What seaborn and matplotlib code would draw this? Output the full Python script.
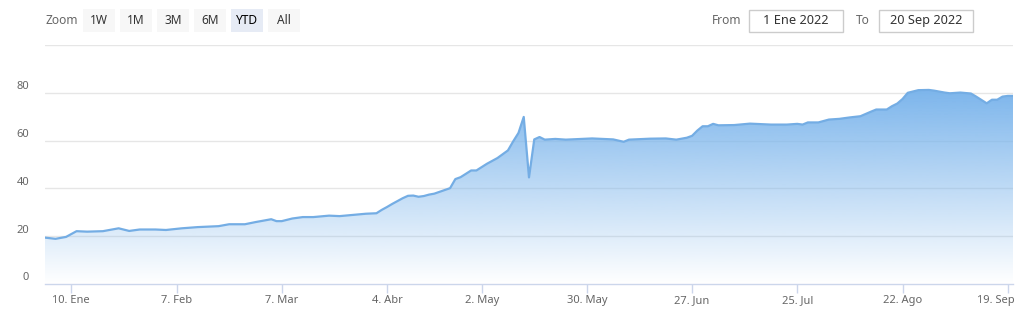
import numpy as np
import pandas as pd
import matplotlib
matplotlib.use("Agg")
import matplotlib.pyplot as plt
import seaborn as sns
from matplotlib.patches import Rectangle
from matplotlib.transforms import blended_transform_factory, ScaledTranslation

# ---------------- data ----------------
dates = [
    "2022-01-03", "2022-01-05", "2022-01-07", "2022-01-11", "2022-01-13", "2022-01-18",
    "2022-01-21", "2022-01-25", "2022-01-27", "2022-02-01", "2022-02-03", "2022-02-08",
    "2022-02-11", "2022-02-17", "2022-02-21", "2022-02-24", "2022-02-28", "2022-03-01",
    "2022-03-03", "2022-03-04", "2022-03-07", "2022-03-09", "2022-03-11", "2022-03-15",
    "2022-03-18", "2022-03-22", "2022-03-24", "2022-03-29", "2022-03-31", "2022-04-01",
    "2022-04-04", "2022-04-05", "2022-04-07", "2022-04-08", "2022-04-11", "2022-04-12",
    "2022-04-13", "2022-04-18", "2022-04-19", "2022-04-22", "2022-04-25", "2022-04-26",
    "2022-04-28", "2022-04-29", "2022-05-02", "2022-05-03", "2022-05-05", "2022-05-09",
    "2022-05-10", "2022-05-11", "2022-05-12", "2022-05-13", "2022-05-16", "2022-05-17",
    "2022-05-18", "2022-05-20", "2022-05-24", "2022-05-31", "2022-06-06", "2022-06-08",
    "2022-06-09", "2022-06-15", "2022-06-20", "2022-06-22", "2022-06-24", "2022-06-27",
    "2022-06-28", "2022-06-29", "2022-06-30", "2022-07-01", "2022-07-04", "2022-07-07",
    "2022-07-12", "2022-07-18", "2022-07-21", "2022-07-25", "2022-07-26", "2022-07-27",
    "2022-07-29", "2022-08-02", "2022-08-04", "2022-08-08", "2022-08-10", "2022-08-12",
    "2022-08-15", "2022-08-17", "2022-08-18", "2022-08-19", "2022-08-22", "2022-08-23",
    "2022-08-25", "2022-08-29", "2022-08-30", "2022-09-01", "2022-09-02", "2022-09-06",
    "2022-09-08", "2022-09-09", "2022-09-13", "2022-09-14", "2022-09-15", "2022-09-16",
    "2022-09-19", "2022-09-20",
]
values = [
    19.4, 18.9, 19.7, 22.1, 21.9, 22.1,
    23.3, 22.2, 22.8, 22.8, 22.6, 23.3,
    23.8, 24.2, 25.0, 25.0, 25.9, 26.3,
    27.1, 26.3, 26.3, 27.4, 28.0, 28.0,
    28.6, 28.4, 28.8, 29.4, 29.6, 31.0,
    32.2, 33.5, 35.9, 36.9, 37.0, 36.5,
    36.8, 37.4, 37.8, 40.1, 43.9, 44.7,
    47.5, 47.5, 48.9, 50.3, 52.7, 55.9,
    59.7, 63.2, 69.9, 44.6, 60.5, 61.5,
    60.4, 60.7, 60.4, 60.9, 60.5, 59.5,
    60.4, 60.8, 60.9, 60.4, 61.2, 62.0,
    64.2, 66.0, 66.0, 67.0, 66.4, 66.5,
    67.1, 66.7, 66.7, 67.0, 66.7, 67.6,
    67.6, 68.8, 69.1, 69.7, 70.2, 72.1,
    73.0, 73.0, 74.4, 75.5, 77.4, 80.0,
    81.1, 81.2, 80.9, 80.1, 79.8, 80.1,
    79.7, 78.4, 75.6, 77.1, 77.1, 78.4,
    78.7, 78.7,
]
holidays = ["2022-04-14", "2022-04-15"]
tick_dates = ["2022-01-10", "2022-02-07", "2022-03-07", "2022-04-04", "2022-05-02",
              "2022-05-30", "2022-06-27", "2022-07-25", "2022-08-22", "2022-09-19"]
tick_labels = ["10. Ene", "7. Feb", "7. Mar", "4. Abr", "2. May",
               "30. May", "27. Jun", "25. Jul", "22. Ago", "19. Sep"]
y_grid = [0, 20, 40, 60, 80, 100]
y_labels = ["0", "20", "40", "60", "80"]
zoom_buttons = ["1W", "1M", "3M", "6M", "YTD", "All"]
selected_button = "YTD"
range_from = "1 Ene 2022"
range_to = "20 Sep 2022"

# ---------------- ordinal (trading-day) axis ----------------
cal = pd.bdate_range("2022-01-03", "2022-09-20")
cal = cal[~cal.isin(pd.to_datetime(holidays))]
x = cal.get_indexer(pd.to_datetime(dates))
xt = cal.get_indexer(pd.to_datetime(tick_dates))
df = pd.DataFrame({"x": x, "v": values})

sns.set_theme(style="white")
plt.rcParams["font.family"] = ["Noto Sans", "DejaVu Sans"]

W, H = 1023, 320
fig = plt.figure(figsize=(W / 100, H / 100), dpi=100)
L, R, T, B = 45, 1013, 45, 284
ax = fig.add_axes([L / W, 1 - B / H, (R - L) / W, (B - T) / H])

line_col = "#74ade4"
fill_rgb = np.array([124, 181, 236]) / 255.0

# gradient fill clipped to area
poly = ax.fill_between(df["x"], df["v"], 0, facecolor="none", edgecolor="none")
ymax = max(values)
n = 256
grad = np.zeros((n, 1, 4))
grad[:, 0, :3] = fill_rgb
grad[:, 0, 3] = np.linspace(1, 0, n)
im = ax.imshow(grad, aspect="auto", extent=[df["x"].min(), df["x"].max(), 0, ymax],
               origin="upper", zorder=1, interpolation="bilinear")
im.set_clip_path(poly.get_paths()[0], transform=ax.transData)

sns.lineplot(data=df, x="x", y="v", ax=ax, color=line_col, linewidth=1.6, zorder=3)

ax.set_xlim(0, len(cal) - 1)
ax.set_ylim(0, 100)
for g in y_grid[1:]:
    ax.axhline(g, color="#e6e6e6", linewidth=1, zorder=0)
ax.set_yticks([])
ax.set_xlabel("")
ax.set_ylabel("")
for s in ["top", "right", "left"]:
    ax.spines[s].set_visible(False)
ax.spines["bottom"].set_color("#ccd6eb")
ax.spines["bottom"].set_linewidth(1)
ax.set_xticks(xt)
ax.set_xticklabels(tick_labels)
ax.tick_params(axis="x", direction="out", length=6.5, width=1, color="#ccd6eb",
               pad=1.5, labelsize=8, labelcolor="#666666", bottom=True)
last = ax.get_xticklabels()[-1]
last.set_horizontalalignment("right")
last.set_transform(last.get_transform() + ScaledTranslation(7 / 100, 0, fig.dpi_scale_trans))

# y labels slightly above their grid lines, right-aligned
trans = blended_transform_factory(fig.transFigure, ax.transData) + \
    ScaledTranslation(0, 6 / 100, fig.dpi_scale_trans)
for lab, g in zip(y_labels, y_grid):
    ax.text(29 / W, g, lab, transform=trans, ha="right", va="center",
            fontsize=8, color="#666666")

# ---------------- range selector ----------------
def fx(px):
    return px / W

def fy(py):
    return 1 - py / H

fig.text(fx(45), fy(20), "Zoom", ha="left", va="center", fontsize=8.6, color="#666666")
bx = 83
for b in zoom_buttons:
    sel = b == selected_button
    fig.patches.append(Rectangle((fx(bx), fy(32)), 32 / W, 23 / H, transform=fig.transFigure,
                                 facecolor="#e6ebf5" if sel else "#f7f7f7", edgecolor="none"))
    fig.text(fx(bx + 16), fy(20), b, ha="center", va="center", fontsize=8.6,
             color="#000000" if sel else "#333333", fontweight="bold" if sel else "normal")
    bx += 37

fig.text(fx(712), fy(20), "From", ha="left", va="center", fontsize=8.6, color="#666666")
fig.patches.append(Rectangle((fx(749), fy(32)), 94 / W, 22 / H, transform=fig.transFigure,
                             facecolor="white", edgecolor="#cccccc", linewidth=1))
fig.text(fx(796), fy(20.5), range_from, ha="center", va="center", fontsize=9.2, color="#333333")
fig.text(fx(856), fy(20), "To", ha="left", va="center", fontsize=8.6, color="#666666")
fig.patches.append(Rectangle((fx(879), fy(32)), 94 / W, 22 / H, transform=fig.transFigure,
                             facecolor="white", edgecolor="#cccccc", linewidth=1))
fig.text(fx(926), fy(20.5), range_to, ha="center", va="center", fontsize=9.2, color="#333333")

fig.savefig("out.png", dpi=100, facecolor="white")
